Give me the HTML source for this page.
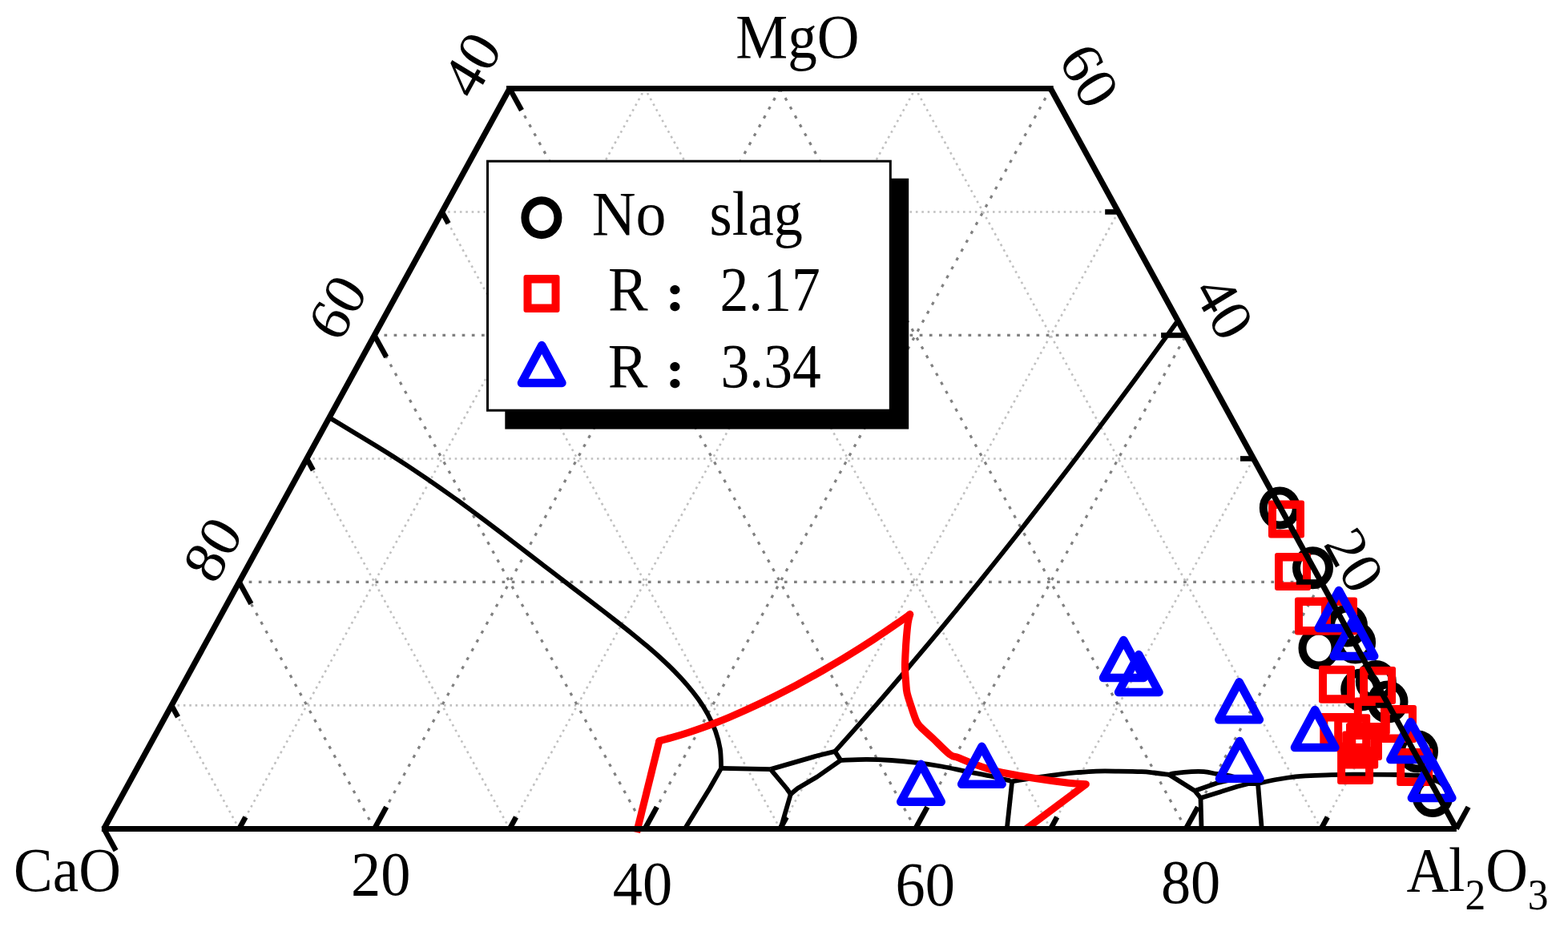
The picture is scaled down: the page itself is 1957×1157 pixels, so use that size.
<!DOCTYPE html>
<html lang="en"><head><meta charset="utf-8">
<title>CaO-MgO-Al2O3 ternary diagram</title>
<style>html,body{margin:0;padding:0;background:#fff;overflow:hidden}body{width:1957px;height:1157px}svg{display:block}text{font-family:"Liberation Serif", "DejaVu Serif", serif}</style>
</head><body>
<svg width="1957" height="1157" viewBox="0 0 1957 1157" role="img" aria-label="CaO-MgO-Al2O3 ternary phase diagram">
<rect width="1957" height="1157" fill="#fff"/>
<g id="grid" fill="none">
<line x1="214.1" y1="880.42" x2="1733.3" y2="880.42" stroke="#c0c0c0" stroke-width="2.6" stroke-dasharray="2.6 4.79"/>
<line x1="298.5" y1="1034.4" x2="804.9" y2="110.5" stroke="#c0c0c0" stroke-width="2.6" stroke-dasharray="2.7 4.98"/>
<line x1="1648.9" y1="1034.4" x2="1142.5" y2="110.5" stroke="#c0c0c0" stroke-width="2.6" stroke-dasharray="2.7 4.98"/>
<line x1="382.9" y1="572.45" x2="1564.5" y2="572.45" stroke="#c0c0c0" stroke-width="2.6" stroke-dasharray="2.6 4.79"/>
<line x1="636.1" y1="1034.4" x2="1142.5" y2="110.5" stroke="#c0c0c0" stroke-width="2.6" stroke-dasharray="2.7 4.98"/>
<line x1="1311.3" y1="1034.4" x2="804.9" y2="110.5" stroke="#c0c0c0" stroke-width="2.6" stroke-dasharray="2.7 4.98"/>
<line x1="551.7" y1="264.48" x2="1395.7" y2="264.48" stroke="#c0c0c0" stroke-width="2.6" stroke-dasharray="2.6 4.79"/>
<line x1="973.7" y1="1034.4" x2="1395.7" y2="264.48" stroke="#c0c0c0" stroke-width="2.6" stroke-dasharray="2.7 4.98"/>
<line x1="973.7" y1="1034.4" x2="551.7" y2="264.48" stroke="#c0c0c0" stroke-width="2.6" stroke-dasharray="2.7 4.98"/>
<line x1="1311.3" y1="1034.4" x2="1564.5" y2="572.45" stroke="#c0c0c0" stroke-width="2.6" stroke-dasharray="2.7 4.98"/>
<line x1="636.1" y1="1034.4" x2="382.9" y2="572.45" stroke="#c0c0c0" stroke-width="2.6" stroke-dasharray="2.7 4.98"/>
<line x1="1648.9" y1="1034.4" x2="1733.3" y2="880.42" stroke="#c0c0c0" stroke-width="2.6" stroke-dasharray="2.7 4.98"/>
<line x1="298.5" y1="1034.4" x2="214.1" y2="880.42" stroke="#c0c0c0" stroke-width="2.6" stroke-dasharray="2.7 4.98"/>
<line x1="298.5" y1="726.43" x2="1648.9" y2="726.43" stroke="#808080" stroke-width="3.2" stroke-dasharray="3.7 8.45"/>
<line x1="467.3" y1="1034.4" x2="973.7" y2="110.5" stroke="#808080" stroke-width="3.2" stroke-dasharray="3.85 8.79"/>
<line x1="1480.1" y1="1034.4" x2="973.7" y2="110.5" stroke="#808080" stroke-width="3.2" stroke-dasharray="3.85 8.79"/>
<line x1="467.3" y1="418.47" x2="1480.1" y2="418.47" stroke="#808080" stroke-width="3.2" stroke-dasharray="3.7 8.45"/>
<line x1="804.9" y1="1034.4" x2="1311.3" y2="110.5" stroke="#808080" stroke-width="3.2" stroke-dasharray="3.85 8.79"/>
<line x1="1142.5" y1="1034.4" x2="636.1" y2="110.5" stroke="#808080" stroke-width="3.2" stroke-dasharray="3.85 8.79"/>
<line x1="1142.5" y1="1034.4" x2="1480.1" y2="418.47" stroke="#808080" stroke-width="3.2" stroke-dasharray="3.85 8.79"/>
<line x1="804.9" y1="1034.4" x2="467.3" y2="418.47" stroke="#808080" stroke-width="3.2" stroke-dasharray="3.85 8.79"/>
<line x1="1480.1" y1="1034.4" x2="1648.9" y2="726.43" stroke="#808080" stroke-width="3.2" stroke-dasharray="3.85 8.79"/>
<line x1="467.3" y1="1034.4" x2="298.5" y2="726.43" stroke="#808080" stroke-width="3.2" stroke-dasharray="3.85 8.79"/>
</g>
<g id="curves">
<path d="M411.5 521.5C414.82 523.5 424.77 529.52 431.4 533.52C438.03 537.51 444.66 541.46 451.27 545.46C457.88 549.47 464.49 553.47 471.06 557.53C477.64 561.58 484.21 565.67 490.74 569.81C497.27 573.96 503.78 578.15 510.26 582.4C516.74 586.65 523.19 590.95 529.61 595.3C536.03 599.66 542.42 604.07 548.77 608.52C555.13 612.97 561.45 617.47 567.74 622.01C574.04 626.54 580.3 631.13 586.54 635.73C592.78 640.33 598.98 644.98 605.17 649.63C611.37 654.28 617.53 658.96 623.68 663.65C629.84 668.33 635.97 673.03 642.1 677.73C648.23 682.43 654.34 687.13 660.46 691.84C666.58 696.54 672.69 701.24 678.81 705.93C684.93 710.63 691.04 715.32 697.17 720.01C703.29 724.7 709.43 729.39 715.57 734.08C721.7 738.77 727.85 743.46 734 748.16C740.15 752.87 746.31 757.57 752.46 762.31C758.61 767.05 764.76 771.8 770.88 776.61C777 781.42 783.12 786.24 789.18 791.15C795.23 796.06 801.28 801.01 807.21 806.06C813.14 811.12 819.04 816.23 824.77 821.49C830.5 826.74 836.16 832.08 841.59 837.59C847.02 843.09 852.33 848.71 857.32 854.54C862.31 860.36 867.13 866.33 871.52 872.54C875.9 878.74 880.05 885.12 883.63 891.78C887.21 898.43 890.47 905.29 892.99 912.46C895.52 919.62 897.61 927.03 898.8 934.77C899.98 942.51 899.88 954.88 900.1 958.9" fill="none" stroke="#000" stroke-width="5.8" stroke-linejoin="round" stroke-linecap="butt"/>
<polyline points="900.1,958.9 885.8,984 855,1034" fill="none" stroke="#000" stroke-width="5.8" stroke-linejoin="round" stroke-linecap="butt"/>
<polyline points="900.1,958.9 961.7,960.1" fill="none" stroke="#000" stroke-width="5.8" stroke-linejoin="round" stroke-linecap="butt"/>
<polyline points="961.7,960.1 1020,943.3 1042.1,937.9" fill="none" stroke="#000" stroke-width="5.8" stroke-linejoin="round" stroke-linecap="butt"/>
<polyline points="961.7,960.1 981.7,984 986.8,991.2" fill="none" stroke="#000" stroke-width="5.8" stroke-linejoin="round" stroke-linecap="butt"/>
<polyline points="986.8,991.2 974.4,1034" fill="none" stroke="#000" stroke-width="5.8" stroke-linejoin="round" stroke-linecap="butt"/>
<polyline points="986.8,991.2 995.4,984 1020,969.5 1049.3,948.8" fill="none" stroke="#000" stroke-width="5.8" stroke-linejoin="round" stroke-linecap="butt"/>
<polyline points="1042.1,937.9 1049.3,948.8" fill="none" stroke="#000" stroke-width="5.8" stroke-linejoin="round" stroke-linecap="butt"/>
<path d="M1042.1 937.9C1047.2 932.19 1062.54 915.12 1072.67 903.66C1082.8 892.19 1092.88 880.67 1102.9 869.1C1112.93 857.53 1122.9 845.91 1132.82 834.25C1142.74 822.59 1152.6 810.88 1162.42 799.13C1172.24 787.37 1182.01 775.58 1191.73 763.74C1201.45 751.9 1211.13 740.02 1220.76 728.11C1230.38 716.19 1239.96 704.23 1249.5 692.24C1259.04 680.25 1268.54 668.23 1277.99 656.17C1287.44 644.11 1296.85 632.02 1306.22 619.89C1315.6 607.77 1324.93 595.62 1334.22 583.44C1343.51 571.26 1352.77 559.05 1361.99 546.82C1371.21 534.59 1380.39 522.33 1389.54 510.05C1398.69 497.77 1407.8 485.47 1416.88 473.15C1425.96 460.82 1435.01 448.48 1444.03 436.12C1453.05 423.77 1466.51 405.19 1471 399" fill="none" stroke="#000" stroke-width="5.8" stroke-linejoin="round" stroke-linecap="butt"/>
<path d="M1049.3 948.8C1054.67 948.65 1070.95 947.87 1081.5 947.9C1092.05 947.93 1102.23 948.33 1112.6 949C1122.97 949.67 1133.32 950.65 1143.7 951.9C1154.08 953.15 1164.52 954.68 1174.9 956.5C1185.28 958.32 1195.15 960.63 1206 962.8C1216.85 964.97 1230.83 967.53 1240 969.5C1249.17 971.47 1257.5 973.75 1261 974.6" fill="none" stroke="#000" stroke-width="5.8" stroke-linejoin="round" stroke-linecap="butt"/>
<polyline points="1263.2,975 1256.8,1034" fill="none" stroke="#000" stroke-width="5.8" stroke-linejoin="round" stroke-linecap="butt"/>
<path d="M1261 975.6C1267.07 974.65 1287 971.45 1297.4 969.9C1307.8 968.35 1315.62 967.25 1323.4 966.3C1331.18 965.35 1336.67 964.82 1344.1 964.2C1351.53 963.58 1359.35 962.87 1368 962.6C1376.65 962.33 1386.5 962.5 1396 962.6C1405.5 962.7 1417.67 962.88 1425 963.2C1432.33 963.52 1434.33 963.9 1440 964.5C1445.67 965.1 1455.83 966.42 1459 966.8" fill="none" stroke="#000" stroke-width="5.8" stroke-linejoin="round" stroke-linecap="butt"/>
<path d="M1459 966.8C1460.22 966.53 1461.63 965.8 1466.3 965.2C1470.97 964.6 1480.95 963.53 1487 963.2C1493.05 962.87 1497.4 962.77 1502.6 963.2C1507.8 963.63 1513.02 965 1518.2 965.8C1523.38 966.6 1528.4 966.88 1533.7 968C1539 969.12 1544.28 970.8 1550 972.5C1555.72 974.2 1565 977.25 1568 978.2" fill="none" stroke="#000" stroke-width="5.8" stroke-linejoin="round" stroke-linecap="butt"/>
<polyline points="1459,966.8 1491.2,987 1498.5,996" fill="none" stroke="#000" stroke-width="5.8" stroke-linejoin="round" stroke-linecap="butt"/>
<polyline points="1491.2,987 1519.2,977.2 1545,971.5" fill="none" stroke="#000" stroke-width="5.8" stroke-linejoin="round" stroke-linecap="butt"/>
<polyline points="1498.5,996 1544.1,981.8 1557.6,978.2 1568,978.2" fill="none" stroke="#000" stroke-width="5.8" stroke-linejoin="round" stroke-linecap="butt"/>
<polyline points="1498.5,996 1499.5,1034" fill="none" stroke="#000" stroke-width="5.8" stroke-linejoin="round" stroke-linecap="butt"/>
<polyline points="1570,978 1574.7,1034" fill="none" stroke="#000" stroke-width="5.8" stroke-linejoin="round" stroke-linecap="butt"/>
<path d="M1568 978.2C1569.2 977.93 1570.53 977.55 1575.2 976.6C1579.87 975.65 1589.08 973.7 1596 972.5C1602.92 971.3 1611.03 970.1 1616.7 969.4C1622.37 968.7 1623.48 968.65 1630 968.3C1636.52 967.95 1645.97 967.58 1655.8 967.3C1665.63 967.02 1674.25 966.65 1689 966.6C1703.75 966.55 1729.13 966.68 1744.3 967C1759.47 967.32 1774.05 968.25 1780 968.5" fill="none" stroke="#000" stroke-width="5.8" stroke-linejoin="round" stroke-linecap="butt"/>
<polyline points="794.6,1039 822.9,924.7" fill="none" stroke="#f00" stroke-width="9.1" stroke-linejoin="round" stroke-linecap="butt"/>
<path d="M822.9 924.7C825.89 923.91 834.9 921.63 840.85 919.94C846.79 918.24 852.7 916.43 858.58 914.53C864.46 912.63 870.3 910.63 876.11 908.54C881.93 906.46 887.71 904.29 893.46 902.04C899.21 899.8 904.94 897.47 910.63 895.08C916.33 892.69 922 890.22 927.64 887.71C933.29 885.19 938.9 882.6 944.49 879.97C950.09 877.33 955.66 874.64 961.2 871.9C966.74 869.17 972.26 866.38 977.76 863.55C983.26 860.71 988.74 857.84 994.19 854.92C999.64 852 1005.07 849.04 1010.48 846.05C1015.88 843.05 1021.27 840.02 1026.63 836.95C1031.99 833.88 1037.33 830.77 1042.65 827.62C1047.97 824.48 1053.26 821.3 1058.53 818.08C1063.8 814.86 1069.05 811.61 1074.27 808.32C1079.49 805.03 1084.69 801.7 1089.87 798.33C1095.04 794.95 1100.19 791.55 1105.31 788.09C1110.43 784.63 1115.52 781.14 1120.59 777.59C1125.65 774.04 1133.18 768.6 1135.7 766.8" fill="none" stroke="#f00" stroke-width="9.1" stroke-linejoin="round" stroke-linecap="round"/>
<path d="M1135.7 766.8C1135.28 768.55 1133.93 772.43 1133.2 777.3C1132.47 782.17 1131.82 789.77 1131.3 796C1130.78 802.23 1130.4 808.47 1130.1 814.7C1129.8 820.93 1129.4 827.18 1129.5 833.4C1129.6 839.62 1130.28 846.82 1130.7 852C1131.12 857.18 1130.97 859.72 1132 864.5C1133.03 869.28 1134.95 874.78 1136.9 880.7C1138.85 886.62 1141.68 895.57 1143.7 900C1145.72 904.43 1145.53 903.67 1149 907.3C1152.47 910.93 1158.47 916.1 1164.5 921.8C1170.53 927.5 1180.02 937.53 1185.2 941.5C1190.38 945.47 1191.27 943.87 1195.6 945.6C1199.93 947.33 1205.13 949.65 1211.2 951.9C1217.27 954.15 1225.42 957.05 1232 959.1C1238.58 961.15 1240.67 962.13 1250.7 964.2C1260.73 966.27 1278.37 969.33 1292.2 971.5C1306.03 973.67 1323.18 975.98 1333.7 977.2C1344.22 978.42 1351.7 978.53 1355.3 978.8" fill="none" stroke="#f00" stroke-width="9.1" stroke-linejoin="round" stroke-linecap="round"/>
<polyline points="1355.3,978.8 1281,1034.4" fill="none" stroke="#f00" stroke-width="9.1" stroke-linejoin="round" stroke-linecap="butt"/>
</g>
<g id="markers">
<ellipse cx="1597.3" cy="634" rx="20.5" ry="21.5" fill="none" stroke="#000" stroke-width="10"/>
<ellipse cx="1638.5" cy="708.8" rx="20.5" ry="21.5" fill="none" stroke="#000" stroke-width="10"/>
<ellipse cx="1646" cy="809" rx="20.5" ry="21.5" fill="none" stroke="#000" stroke-width="10"/>
<ellipse cx="1681.5" cy="781" rx="20.5" ry="21.5" fill="none" stroke="#000" stroke-width="10"/>
<ellipse cx="1691.6" cy="802" rx="20.5" ry="21.5" fill="none" stroke="#000" stroke-width="10"/>
<ellipse cx="1698.7" cy="861" rx="20.5" ry="21.5" fill="none" stroke="#000" stroke-width="10"/>
<ellipse cx="1717.3" cy="850.5" rx="20.5" ry="21.5" fill="none" stroke="#000" stroke-width="10"/>
<ellipse cx="1732" cy="876" rx="20.5" ry="21.5" fill="none" stroke="#000" stroke-width="10"/>
<ellipse cx="1769.5" cy="938" rx="20.5" ry="21.5" fill="none" stroke="#000" stroke-width="10"/>
<ellipse cx="1788" cy="993.6" rx="20.5" ry="21.5" fill="none" stroke="#000" stroke-width="10"/>
<path d="M1586 624.5h39a3 3 0 0 1 3 3v41a3 3 0 0 1 -3 3h-39a3 3 0 0 1 -3 -3v-41a3 3 0 0 1 3 -3zM1593 635v26h25v-26z" fill="#f00" fill-rule="evenodd"/>
<path d="M1594 690h39a3 3 0 0 1 3 3v41a3 3 0 0 1 -3 3h-39a3 3 0 0 1 -3 -3v-41a3 3 0 0 1 3 -3zM1601 700.5v26h25v-26z" fill="#f00" fill-rule="evenodd"/>
<path d="M1619 745.5h39a3 3 0 0 1 3 3v41a3 3 0 0 1 -3 3h-39a3 3 0 0 1 -3 -3v-41a3 3 0 0 1 3 -3zM1626 756v26h25v-26z" fill="#f00" fill-rule="evenodd"/>
<path d="M1652 745.5h39a3 3 0 0 1 3 3v41a3 3 0 0 1 -3 3h-39a3 3 0 0 1 -3 -3v-41a3 3 0 0 1 3 -3zM1659 756v26h25v-26z" fill="#f00" fill-rule="evenodd"/>
<path d="M1649 830.7h39a3 3 0 0 1 3 3v41a3 3 0 0 1 -3 3h-39a3 3 0 0 1 -3 -3v-41a3 3 0 0 1 3 -3zM1656 841.2v26h25v-26z" fill="#f00" fill-rule="evenodd"/>
<path d="M1700.1 832.1h39a3 3 0 0 1 3 3v41a3 3 0 0 1 -3 3h-39a3 3 0 0 1 -3 -3v-41a3 3 0 0 1 3 -3zM1707.1 842.6v26h25v-26z" fill="#f00" fill-rule="evenodd"/>
<path d="M1692.8 870.5h39a3 3 0 0 1 3 3v41a3 3 0 0 1 -3 3h-39a3 3 0 0 1 -3 -3v-41a3 3 0 0 1 3 -3zM1699.8 881v26h25v-26z" fill="#f00" fill-rule="evenodd"/>
<path d="M1726 880h39a3 3 0 0 1 3 3v41a3 3 0 0 1 -3 3h-39a3 3 0 0 1 -3 -3v-41a3 3 0 0 1 3 -3zM1733 890.5v26h25v-26z" fill="#f00" fill-rule="evenodd"/>
<path d="M1650.3 890h39a3 3 0 0 1 3 3v41a3 3 0 0 1 -3 3h-39a3 3 0 0 1 -3 -3v-41a3 3 0 0 1 3 -3zM1657.3 900.5v26h25v-26z" fill="#f00" fill-rule="evenodd"/>
<path d="M1668.2 891.2h39a3 3 0 0 1 3 3v41a3 3 0 0 1 -3 3h-39a3 3 0 0 1 -3 -3v-41a3 3 0 0 1 3 -3zM1675.2 901.7v26h25v-26z" fill="#f00" fill-rule="evenodd"/>
<path d="M1683 902h39a3 3 0 0 1 3 3v41a3 3 0 0 1 -3 3h-39a3 3 0 0 1 -3 -3v-41a3 3 0 0 1 3 -3zM1690 912.5v26h25v-26z" fill="#f00" fill-rule="evenodd"/>
<path d="M1678.2 912.5h39a3 3 0 0 1 3 3v41a3 3 0 0 1 -3 3h-39a3 3 0 0 1 -3 -3v-41a3 3 0 0 1 3 -3zM1685.2 923v26h25v-26z" fill="#f00" fill-rule="evenodd"/>
<path d="M1672.1 931.9h39a3 3 0 0 1 3 3v41a3 3 0 0 1 -3 3h-39a3 3 0 0 1 -3 -3v-41a3 3 0 0 1 3 -3zM1679.1 942.4v26h25v-26z" fill="#f00" fill-rule="evenodd"/>
<path d="M1746.2 934h39a3 3 0 0 1 3 3v41a3 3 0 0 1 -3 3h-39a3 3 0 0 1 -3 -3v-41a3 3 0 0 1 3 -3zM1753.2 944.5v26h25v-26z" fill="#f00" fill-rule="evenodd"/>
<polygon points="1149.5,953.8 1174.8,1000.8 1124.2,1000.8" fill="none" stroke="#00f" stroke-width="10.4" stroke-linejoin="round"/>
<polygon points="1225.4,931.8 1250.7,978.8 1200.1,978.8" fill="none" stroke="#00f" stroke-width="10.4" stroke-linejoin="round"/>
<polygon points="1402.3,799 1427.6,846 1377,846" fill="none" stroke="#00f" stroke-width="10.4" stroke-linejoin="round"/>
<polygon points="1421.3,817 1446.6,864 1396,864" fill="none" stroke="#00f" stroke-width="10.4" stroke-linejoin="round"/>
<polygon points="1546.6,851.3 1571.9,898.3 1521.3,898.3" fill="none" stroke="#00f" stroke-width="10.4" stroke-linejoin="round"/>
<polygon points="1547.2,924.9 1572.5,971.9 1521.9,971.9" fill="none" stroke="#00f" stroke-width="10.4" stroke-linejoin="round"/>
<polygon points="1641.2,886 1666.5,933 1615.9,933" fill="none" stroke="#00f" stroke-width="10.4" stroke-linejoin="round"/>
<polygon points="1671,737 1696.3,784 1645.7,784" fill="none" stroke="#00f" stroke-width="10.4" stroke-linejoin="round"/>
<polygon points="1690,772 1715.3,819 1664.7,819" fill="none" stroke="#00f" stroke-width="10.4" stroke-linejoin="round"/>
<polygon points="1760.6,901 1785.9,948 1735.3,948" fill="none" stroke="#00f" stroke-width="10.4" stroke-linejoin="round"/>
<polygon points="1787.1,949 1812.4,996 1761.8,996" fill="none" stroke="#00f" stroke-width="10.4" stroke-linejoin="round"/>
</g>
<g id="frame" stroke="#000" stroke-width="7.2" fill="none" stroke-linecap="butt">
<line x1="126.9" y1="1034.4" x2="1817.9" y2="1034.4" stroke-width="7"/>
<line x1="632" y1="110.5" x2="1314.7" y2="110.5" stroke-width="7"/>
<line x1="129.7" y1="1034.4" x2="636.1" y2="110.5"/>
<line x1="1311.3" y1="110.5" x2="1817.7" y2="1034.4"/>
</g>
<g id="ticks" stroke="#000" stroke-width="6.6" fill="none">
<line x1="298.5" y1="1034.4" x2="306.43" y2="1019.93"/>
<line x1="467.3" y1="1034.4" x2="482.2" y2="1007.22"/>
<line x1="636.1" y1="1034.4" x2="644.03" y2="1019.93"/>
<line x1="804.9" y1="1034.4" x2="819.8" y2="1007.22"/>
<line x1="973.7" y1="1034.4" x2="981.63" y2="1019.93"/>
<line x1="1142.5" y1="1034.4" x2="1157.4" y2="1007.22"/>
<line x1="1311.3" y1="1034.4" x2="1319.23" y2="1019.93"/>
<line x1="1480.1" y1="1034.4" x2="1495" y2="1007.22"/>
<line x1="1648.9" y1="1034.4" x2="1656.83" y2="1019.93"/>
<line x1="1817.7" y1="1034.4" x2="1832.6" y2="1007.22"/>
<line x1="129.7" y1="1034.4" x2="144.6" y2="1061.58"/>
<line x1="214.1" y1="880.42" x2="222.03" y2="894.89"/>
<line x1="298.5" y1="726.43" x2="313.4" y2="753.62"/>
<line x1="382.9" y1="572.45" x2="390.83" y2="586.92"/>
<line x1="467.3" y1="418.47" x2="482.2" y2="445.65"/>
<line x1="551.7" y1="264.48" x2="559.63" y2="278.95"/>
<line x1="636.1" y1="110.5" x2="651" y2="137.68"/>
<line x1="1733.3" y1="880.42" x2="1716.8" y2="880.42"/>
<line x1="1648.9" y1="726.43" x2="1617.9" y2="726.43"/>
<line x1="1564.5" y1="572.45" x2="1548" y2="572.45"/>
<line x1="1480.1" y1="418.47" x2="1449.1" y2="418.47"/>
<line x1="1395.7" y1="264.48" x2="1379.2" y2="264.48"/>
</g>
<g id="legend">
<rect x="630.3" y="222.7" width="503.9" height="312.9" fill="#000"/>
<rect x="608.5" y="201.2" width="502.8" height="311" fill="#fff" stroke="#000" stroke-width="3"/>
<ellipse cx="675.9" cy="271.7" rx="20.5" ry="21.5" fill="none" stroke="#000" stroke-width="10"/>
<path d="M656.5 343.1h39a3 3 0 0 1 3 3v41a3 3 0 0 1 -3 3h-39a3 3 0 0 1 -3 -3v-41a3 3 0 0 1 3 -3zM663.5 353.6v26h25v-26z" fill="#f00" fill-rule="evenodd"/>
<polygon points="676.2,431 701.5,478 650.9,478" fill="none" stroke="#00f" stroke-width="10.4" stroke-linejoin="round"/>
</g>
<g id="labels" font-family="'Liberation Serif', 'DejaVu Serif', serif" fill="#000">
<text transform="translate(995.4 72.3) scale(1 1.07)" font-size="73" text-anchor="middle">MgO</text>
<text transform="translate(84 1111.5) scale(1 1.07)" font-size="73" text-anchor="middle">CaO</text>
<text transform="translate(1755.4 1111.9) scale(1 1.07)" font-size="73" text-anchor="start">Al<tspan dy="22" font-size="51.5">2</tspan><tspan dy="-22">O</tspan><tspan dy="22" font-size="51.5">3</tspan></text>
<text transform="translate(475.2 1116.6) scale(1.02 1.07)" font-size="73" text-anchor="middle">20</text>
<text transform="translate(801.9 1128.6) scale(1.02 1.07)" font-size="73" text-anchor="middle">40</text>
<text transform="translate(1154.8 1129.5) scale(1.02 1.07)" font-size="73" text-anchor="middle">60</text>
<text transform="translate(1486.1 1126.8) scale(1.02 1.07)" font-size="73" text-anchor="middle">80</text>
<text transform="translate(609.8 93.3) scale(1 1.05) rotate(-60) scale(1 1)" font-size="73" text-anchor="middle">40</text>
<text transform="translate(441.9 396.5) scale(1 1.05) rotate(-60) scale(1 1)" font-size="73" text-anchor="middle">60</text>
<text transform="translate(286.5 698.4) scale(1 1.05) rotate(-60) scale(1 1)" font-size="73" text-anchor="middle">80</text>
<text transform="translate(1338.4 107.1) scale(1 1.05) rotate(60) scale(1 1)" font-size="73" text-anchor="middle">60</text>
<text transform="translate(1506.6 396.4) scale(1 1.05) rotate(60) scale(1 1)" font-size="73" text-anchor="middle">40</text>
<text transform="translate(1669.2 712) scale(1 1.05) rotate(60) scale(1 1)" font-size="73" text-anchor="middle">20</text>
<text transform="translate(738.8 293) scale(1.04 1.07)" font-size="73" text-anchor="start">No</text>
<text transform="translate(885.6 293) scale(0.99 1.07)" font-size="73" text-anchor="start">slag</text>
<text transform="translate(758.9 387) scale(1.02 1.07)" font-size="73" text-anchor="start">R</text>
<text transform="translate(825.5 389.4) scale(1.02 0.95)" font-size="58" text-anchor="start" style="font-family:'Noto Serif CJK SC','Noto Sans CJK SC',serif;font-weight:900">：</text>
<text transform="translate(898.5 387) scale(0.98 1.07)" font-size="73" text-anchor="start">2.17</text>
<text transform="translate(758.7 482.6) scale(1.02 1.07)" font-size="73" text-anchor="start">R</text>
<text transform="translate(825.5 484.5) scale(1.02 0.95)" font-size="58" text-anchor="start" style="font-family:'Noto Serif CJK SC','Noto Sans CJK SC',serif;font-weight:900">：</text>
<text transform="translate(899.5 482.6) scale(0.98 1.07)" font-size="73" text-anchor="start">3.34</text>
</g>
</svg>
</body></html>
